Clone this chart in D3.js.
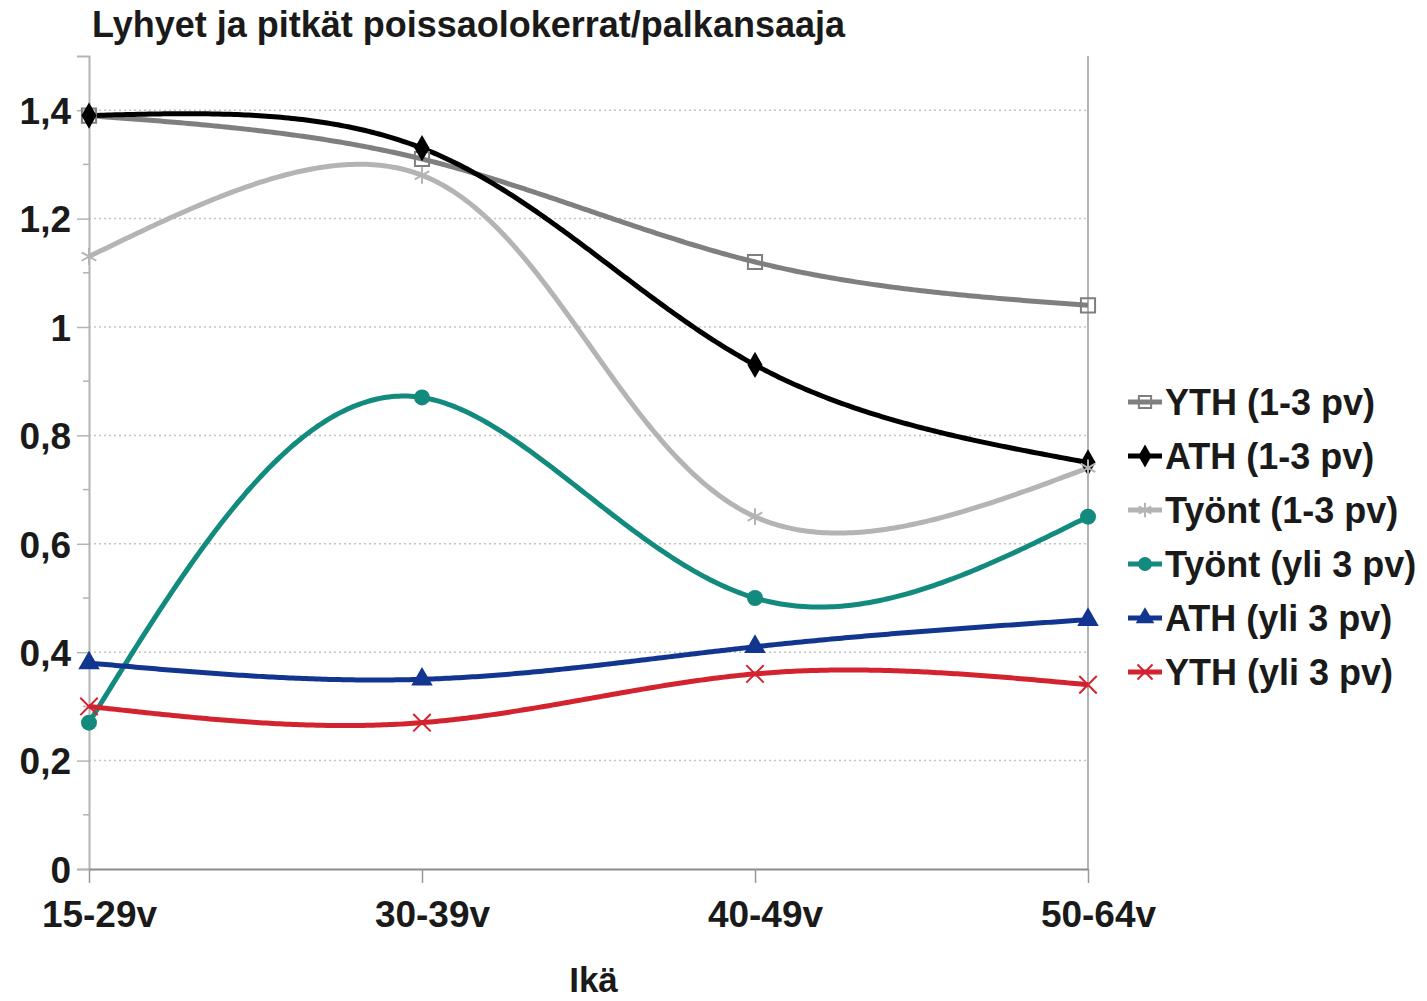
<!DOCTYPE html>
<html>
<head>
<meta charset="utf-8">
<script src="https://cdn.jsdelivr.net/npm/d3@7"></script>
<style>
  body { margin: 0; background: #fff; }
  svg text { font-family: "Liberation Sans", Arial, sans-serif; font-weight: bold; fill: #1a1a1a; }
</style>
</head>
<body>
<div id="chart"></div>
<script>
var categories = ["15-29v", "30-39v", "40-49v", "50-64v"];
var seriesNames = ["YTH (1-3 pv)", "ATH (1-3 pv)", "Työnt (1-3 pv)", "Työnt (yli 3 pv)", "ATH (yli 3 pv)", "YTH (yli 3 pv)"];
var ythShort = [1.39, 1.31, 1.12, 1.04];
var athShort = [1.39, 1.33, 0.93, 0.75];
var tyontShort = [1.13, 1.28, 0.65, 0.74];
var tyontLong = [0.27, 0.87, 0.50, 0.65];
var athLong = [0.38, 0.35, 0.41, 0.46];
var ythLong = [0.30, 0.27, 0.36, 0.34];
var yTicks = [0, 0.2, 0.4, 0.6, 0.8, 1, 1.2, 1.4];

var series = [
  { name: seriesNames[0], values: ythShort, color: "#7f7f7f", symbol: d3.symbolSquare, hollow: true },
  { name: seriesNames[1], values: athShort, color: "#000000", symbol: d3.symbolDiamond },
  { name: seriesNames[2], values: tyontShort, color: "#b4b4b4", symbol: d3.symbolAsterisk, stroke: true },
  { name: seriesNames[3], values: tyontLong, color: "#138a7e", symbol: d3.symbolCircle },
  { name: seriesNames[4], values: athLong, color: "#12358f", symbol: d3.symbolTriangle },
  { name: seriesNames[5], values: ythLong, color: "#d2232f", symbol: d3.symbolTimes, stroke: true }
];

var width = 1427, height = 1001;
var svg = d3.select("#chart").append("svg")
    .attr("width", width)
    .attr("height", height);

var x = d3.scalePoint().domain(categories).range([89, 1088]);
var y = d3.scaleLinear().domain([0, 1.5]).range([869, 56]);

// natural cubic spline through (t, f)
function naturalSpline(t, f) {
  var n = t.length - 1, h = [], M = new Array(n + 1).fill(0);
  for (var i = 0; i < n; i++) h.push(t[i + 1] - t[i]);
  if (n > 1) {
    var a = [], b = [], c = [], r = [];
    for (var i = 1; i < n; i++) {
      a.push(h[i - 1]); b.push(2 * (h[i - 1] + h[i])); c.push(h[i]);
      r.push(6 * ((f[i + 1] - f[i]) / h[i] - (f[i] - f[i - 1]) / h[i - 1]));
    }
    // thomas algorithm
    var m = r.length;
    for (var i = 1; i < m; i++) {
      var w = a[i] / b[i - 1];
      b[i] -= w * c[i - 1];
      r[i] -= w * r[i - 1];
    }
    var sol = new Array(m);
    sol[m - 1] = r[m - 1] / b[m - 1];
    for (var i = m - 2; i >= 0; i--) sol[i] = (r[i] - c[i] * sol[i + 1]) / b[i];
    for (var i = 1; i < n; i++) M[i] = sol[i - 1];
  }
  return function (s) {
    var i = 0;
    while (i < n - 1 && s > t[i + 1]) i++;
    var hi = h[i], A = t[i + 1] - s, B = s - t[i];
    return M[i] * A * A * A / (6 * hi) + M[i + 1] * B * B * B / (6 * hi) +
      (f[i] / hi - M[i] * hi / 6) * A + (f[i + 1] / hi - M[i + 1] * hi / 6) * B;
  };
}

// parametric spline with chord-length parameter (like the office chart)
function splinePoints(values) {
  var pts = values.map((v, i) => [x(categories[i]), y(v)]);
  var t = [0];
  for (var i = 1; i < pts.length; i++) {
    t.push(t[i - 1] + Math.hypot(pts[i][0] - pts[i - 1][0], pts[i][1] - pts[i - 1][1]));
  }
  var sx = naturalSpline(t, pts.map(p => p[0]));
  var sy = naturalSpline(t, pts.map(p => p[1]));
  var out = [], steps = 300;
  for (var k = 0; k <= steps; k++) {
    var s = t[t.length - 1] * k / steps;
    out.push([sx(s), sy(s)]);
  }
  return out;
}

// gridlines
svg.append("g")
    .selectAll("line")
    .data(yTicks.filter(d => d > 0))
    .enter().append("line")
    .attr("x1", x.range()[0]).attr("x2", x.range()[1])
    .attr("y1", d => y(d)).attr("y2", d => y(d))
    .attr("stroke", "#c4c4c4")
    .attr("stroke-width", 1.5)
    .attr("stroke-dasharray", "2,3");

// right border
svg.append("line")
    .attr("x1", x.range()[1]).attr("x2", x.range()[1])
    .attr("y1", y(1.5)).attr("y2", y(0))
    .attr("stroke", "#b3b3b3").attr("stroke-width", 2);

// y axis
var yAxis = svg.append("g")
    .attr("transform", "translate(" + x.range()[0] + ",0)")
    .call(d3.axisLeft(y).tickValues(yTicks).tickSize(12).tickPadding(6)
      .tickFormat(d => String(d).replace(".", ",")));
yAxis.selectAll("text").style("font-size", "37px").attr("dy", "0.36em");
yAxis.select(".domain").attr("stroke", "#b3b3b3").attr("stroke-width", 2);
yAxis.selectAll(".tick line").attr("stroke", "#b3b3b3").attr("stroke-width", 1.5);

// minor ticks
svg.append("g")
    .selectAll("line")
    .data(d3.range(1, 15, 2).map(d => d / 10))
    .enter().append("line")
    .attr("x1", x.range()[0] - 6).attr("x2", x.range()[0])
    .attr("y1", d => y(d)).attr("y2", d => y(d))
    .attr("stroke", "#b3b3b3").attr("stroke-width", 1.5);

// x axis
var xAxis = svg.append("g")
    .attr("transform", "translate(0," + y(0) + ")")
    .call(d3.axisBottom(x).tickSize(14).tickPadding(18).tickSizeOuter(0));
xAxis.selectAll("text").style("font-size", "37px").attr("dx", 10);
xAxis.select(".domain").attr("stroke", "#8c8c8c").attr("stroke-width", 2);
xAxis.selectAll(".tick line").attr("stroke", "#999").attr("stroke-width", 1.5);

// lines
var line = d3.line();

svg.append("g")
    .selectAll("path")
    .data(series)
    .enter().append("path")
    .attr("d", d => line(splinePoints(d.values)))
    .attr("fill", "none")
    .attr("stroke", d => d.color)
    .attr("stroke-width", 5)
    .attr("stroke-linejoin", "round");

// markers
function drawMarker(sel, s, size) {
  var p = sel.append("path")
      .attr("d", d3.symbol().type(s.symbol).size(size)());
  if (s.hollow || s.stroke) {
    p.attr("fill", "none").attr("stroke", s.color).attr("stroke-width", 2);
  } else {
    p.attr("fill", s.color);
  }
}

series.forEach(function (s) {
  s.values.forEach(function (v, i) {
    var g = svg.append("g")
        .attr("transform", "translate(" + x(categories[i]) + "," + y(v) + ")");
    drawMarker(g, s, 200);
  });
});

// title
svg.append("text")
    .attr("x", 92).attr("y", 37)
    .style("font-size", "36px")
    .text("Lyhyet ja pitkät poissaolokerrat/palkansaaja");

// axis title
svg.append("text")
    .attr("x", (x.range()[0] + x.range()[1]) / 2 + 5).attr("y", 992)
    .attr("text-anchor", "middle")
    .style("font-size", "35px")
    .text("Ikä");

// legend
var legend = svg.append("g")
    .attr("transform", "translate(1128,402)");
series.forEach(function (s, i) {
  var g = legend.append("g").attr("transform", "translate(0," + i * 54 + ")");
  g.append("line")
      .attr("x1", 0).attr("x2", 34)
      .attr("stroke", s.color).attr("stroke-width", 5);
  var m = g.append("g").attr("transform", "translate(17,0)");
  drawMarker(m, s, 150);
  g.append("text")
      .attr("x", 37).attr("y", 0).attr("dy", "0.36em")
      .style("font-size", "36px")
      .text(s.name);
});
</script>
</body>
</html>
